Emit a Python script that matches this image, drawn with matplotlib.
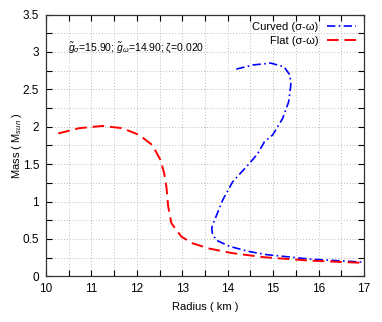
import matplotlib
matplotlib.use("Agg")
import matplotlib.pyplot as plt
from matplotlib.ticker import MultipleLocator, FormatStrFormatter

plt.rcParams["font.family"] = ["Liberation Sans", "DejaVu Sans"]
plt.rcParams["mathtext.fontset"] = "custom"
plt.rcParams["mathtext.rm"] = "Liberation Sans"
plt.rcParams["mathtext.it"] = "Liberation Sans:italic"

# Flat (sigma-omega): radius (km), mass (Msun)
flat_r = [10.27, 10.73, 11.24, 11.68, 12.05, 12.34, 12.52, 12.60, 12.65, 12.69,
          12.76, 12.98, 13.23, 13.60, 14.10, 14.80, 15.80, 16.96, 17.0]
flat_m = [1.91, 1.98, 2.01, 1.98, 1.89, 1.755, 1.555, 1.38, 1.20, 0.93,
          0.71, 0.53, 0.44, 0.37, 0.31, 0.255, 0.21, 0.18, 0.18]

# Curved (sigma-omega)
curv_r = [14.19, 14.55, 14.95, 15.24, 15.37, 15.39, 15.34, 15.21, 14.99, 14.81,
          14.66, 14.48, 14.11, 13.89, 13.71, 13.65, 13.66, 13.74, 14.04, 14.48,
          14.85, 15.80, 16.96, 17.0]
curv_m = [2.77, 2.825, 2.85, 2.80, 2.69, 2.56, 2.33, 2.11, 1.89, 1.80,
          1.64, 1.51, 1.265, 1.02, 0.75, 0.65, 0.58, 0.485, 0.40, 0.33,
          0.29, 0.23, 0.19, 0.19]

fig = plt.figure(figsize=(3.82, 3.22), dpi=100)
ax = fig.add_axes([46 / 382, 1 - 276.3 / 322, 318 / 382, 261.8 / 322])

ax.plot(curv_r, curv_m, color="blue", linestyle=(0, (5, 2, 1, 2)), lw=1.2,
        label="Curved (σ-ω)")
ax.plot(flat_r, flat_m, color="red", linestyle=(0, (6, 3)), lw=1.4,
        label="Flat (σ-ω)")

ax.set_xlim(10, 17)
ax.set_ylim(0, 3.5)
ax.xaxis.set_major_locator(MultipleLocator(1))
ax.xaxis.set_minor_locator(MultipleLocator(0.5))
ax.yaxis.set_major_locator(MultipleLocator(0.5))
ax.yaxis.set_minor_locator(MultipleLocator(0.25))
ax.yaxis.set_major_formatter(FormatStrFormatter("%g"))
ax.grid(True, which="both", color="#bbbbbb", linestyle=(0, (1, 2)), lw=0.7)
ax.tick_params(which="both", direction="in", top=True, right=True,
               labelsize=8.5, length=4, width=0.8, pad=5)
for s in ax.spines.values():
    s.set_linewidth(0.9)
    s.set_color("#333333")

ax.set_xlabel("Radius ( km )", fontsize=8, labelpad=5)
ax.set_ylabel("Mass ( M$_{sun}$ )", fontsize=8, labelpad=-1)

ax.text(0.07, 0.86, r"$\tilde{g}_\sigma$=15.90; $\tilde{g}_\omega$=14.90; ζ=0.020",
        transform=ax.transAxes, fontsize=7.5)

ax.legend(loc="upper right", frameon=False, markerfirst=False, fontsize=8,
          handlelength=2.6, borderaxespad=0.3, labelspacing=0.3)

fig.savefig("out.png", dpi=100)
